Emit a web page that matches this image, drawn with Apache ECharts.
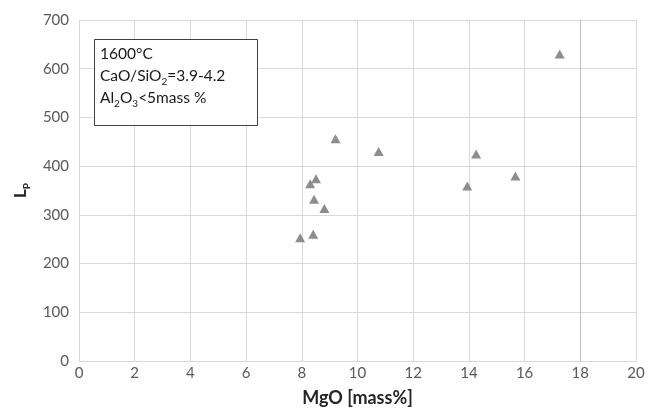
<!DOCTYPE html>
<html lang="en">
<head>
    <meta charset="UTF-8">
    <title>Lp vs MgO</title>
    <style>
        html, body { margin: 0; padding: 0; background: #fff; }
        #chart { width: 648px; height: 412px; }
    </style>
</head>
<body>
    <div id="chart"></div>
</body>
<script src="https://cdn.jsdelivr.net/npm/echarts@6/dist/echarts.min.js"></script>
<script type="text/javascript">
    // MgO content [mass%] and phosphorus partition ratio Lp
    const mgo = [7.94, 8.41, 8.30, 8.51, 8.44, 8.81, 9.21, 10.76, 13.94, 14.26, 15.67, 17.26];
    const lp = [253, 260, 364, 374, 332, 313, 456, 430, 359, 425, 380, 630];

    const font = 'Lato, "Open Sans", sans-serif';
    const gridColor = '#d9d9d9';

    let points = mgo.map((x, i) => [x, lp[i]]);

    let chart = echarts.init(document.getElementById('chart'));
    let option = {
        backgroundColor: '#fff',
        animation: false,
        grid: {
            left: 79,
            right: 12,
            top: 20,
            bottom: 51
        },
        xAxis: {
            type: 'value',
            min: 0,
            max: 20,
            interval: 2,
            name: 'MgO [mass%]',
            nameLocation: 'middle',
            nameGap: 28,
            nameTextStyle: {
                fontFamily: font,
                fontSize: 18,
                fontWeight: 'bold',
                color: '#262626'
            },
            axisLine: { lineStyle: { color: gridColor } },
            axisTick: { show: false },
            axisLabel: {
                fontFamily: font,
                fontSize: 15,
                color: '#595959',
                margin: 5
            },
            splitLine: { lineStyle: { color: gridColor } }
        },
        yAxis: {
            type: 'value',
            min: 0,
            max: 700,
            interval: 100,
            name: '{l|L}{p|P}',
            nameLocation: 'middle',
            nameGap: 45,
            nameRotate: 90,
            nameTextStyle: {
                rich: {
                    l: {
                        fontFamily: font,
                        fontSize: 17,
                        fontWeight: 'bold',
                        color: '#262626',
                        lineHeight: 22
                    },
                    p: {
                        fontFamily: font,
                        fontSize: 10,
                        fontWeight: 'bold',
                        color: '#262626',
                        lineHeight: 13,
                        verticalAlign: 'bottom'
                    }
                }
            },
            axisLine: { show: true, lineStyle: { color: gridColor } },
            axisTick: { show: false },
            axisLabel: {
                fontFamily: font,
                fontSize: 15,
                color: '#595959',
                margin: 10
            },
            splitLine: { lineStyle: { color: gridColor } }
        },
        graphic: [{
            type: 'rect',
            left: 94,
            top: 39,
            shape: { width: 163, height: 86 },
            style: { fill: '#fff', stroke: '#404040', lineWidth: 1 },
            z: 10
        }, {
            type: 'text',
            left: 100,
            top: 46,
            z: 11,
            style: {
                text: '{n|1600°C}\n{n|CaO/SiO}{s|2}{n|=3.9-4.2}\n{n|Al}{s|2}{n|O}{s|3}{n|<5mass %}',
                rich: {
                    n: {
                        fontFamily: font,
                        fontSize: 15.5,
                        fill: '#1a1a1a',
                        lineHeight: 22
                    },
                    s: {
                        fontFamily: font,
                        fontSize: 10,
                        fill: '#1a1a1a',
                        lineHeight: 14,
                        verticalAlign: 'bottom'
                    }
                }
            }
        }],
        series: [{
            type: 'scatter',
            data: points,
            symbol: 'triangle',
            symbolSize: [10, 9],
            itemStyle: { color: '#707070' },
            markLine: {
                silent: true,
                symbol: 'none',
                label: { show: false },
                lineStyle: { color: '#bfbfbf', type: 'solid', width: 1 },
                data: [{ xAxis: 18 }]
            }
        }]
    };
    chart.setOption(option);
</script>
</html>
